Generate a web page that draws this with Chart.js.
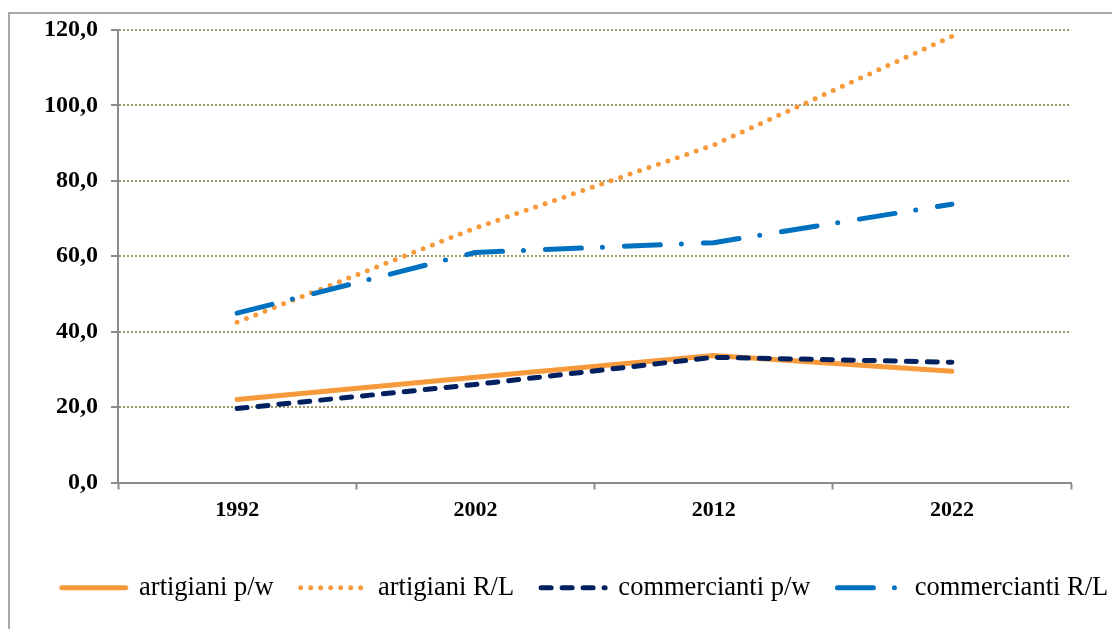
<!DOCTYPE html>
<html>
<head>
<meta charset="utf-8">
<script src="https://cdn.jsdelivr.net/npm/chart.js@4"></script>
<style>
  html, body { margin: 0; padding: 0; background: #fff; overflow: hidden; }
  #frame { position: absolute; left: 8px; top: 12px; width: 1300px; height: 800px;
           border: 2px solid #a8a8a8; box-sizing: border-box; }
  #wrap { position: absolute; left: 0; top: 0; width: 1112px; height: 629px; }
</style>
</head>
<body>
<div id="frame"></div>
<div id="wrap"><canvas id="c"></canvas></div>
<script>
// Years on the horizontal axis
const years = ['1992', '2002', '2012', '2022'];

// Series values
const artigianiPW = [22.0, 27.9, 33.7, 29.5];
const artigianiRL = [42.5, 67.5, 89.5, 118.3];
const commerciantiPW = [19.6, 26.0, 33.2, 31.9];
const commerciantiRL = [44.9, 61.0, 63.6, 73.8];

// Vertical axis range
const yMin = 0, yMax = 120, yStep = 20;

const ORANGE = '#f79a3b';
const NAVY = '#002060';
const BLUE = '#0070c0';
const GRID = '#9d9765';
const AXIS = '#8c8c8c';

const serif = '"Liberation Serif", "Times New Roman", serif';

function series(label, data, color, dash, order) {
  return {
    label, data,
    borderColor: color, backgroundColor: color,
    borderWidth: 5, borderDash: dash,
    borderCapStyle: 'round', borderJoinStyle: 'round',
    pointRadius: 0, tension: 0, fill: false, order
  };
}

// Nudges the legend row sideways so it sits under the plot
const legendShift = {
  id: 'legendShift',
  afterLayout(chart) {
    const lg = chart.legend;
    if (lg) { lg.left += 29; lg.right += 29; }
  }
};

const chart = new Chart(document.getElementById('c'), {
  type: 'line',
  plugins: [legendShift],
  data: {
    labels: years,
    datasets: [
      series('artigiani p/w', artigianiPW, ORANGE, [], 3),
      series('artigiani R/L', artigianiRL, ORANGE, [0, 10], 2),
      series('commercianti p/w', commerciantiPW, NAVY, [10, 11], 1),
      series('commercianti R/L', commerciantiRL, BLUE, [36, 21, 0, 22], 0)
    ]
  },
  options: {
    responsive: true,
    maintainAspectRatio: false,
    animation: false,
    layout: { padding: { left: 0, right: 0, top: 30, bottom: 18 } },
    plugins: {
      tooltip: { enabled: false },
      legend: {
        position: 'bottom',
        labels: {
          usePointStyle: true,
          pointStyle: 'line',
          pointStyleWidth: 64,
          padding: 27,
          color: '#000',
          font: { family: serif, size: 26.5 },
          generateLabels: (ch) => ch.data.datasets.map((ds, i) => ({
            text: ds.label,
            fillStyle: ds.borderColor,
            strokeStyle: ds.borderColor,
            fontColor: '#000',
            lineWidth: ds.borderWidth,
            lineDash: ds.borderDash,
            lineDashOffset: 0,
            lineCap: 'round',
            lineJoin: 'round',
            pointStyle: 'line',
            hidden: false,
            datasetIndex: i
          }))
        }
      }
    },
    scales: {
      x: {
        offset: true,
        grid: {
          offset: true,
          drawOnChartArea: false,
          drawTicks: true,
          tickLength: 7,
          tickColor: AXIS,
          tickWidth: 2
        },
        border: { display: true, color: AXIS, width: 2 },
        ticks: {
          padding: 8,
          color: '#000',
          font: { family: serif, size: 22, weight: 'bold' }
        },
        afterFit: (s) => { s.height = 65; }
      },
      y: {
        min: yMin, max: yMax,
        grid: {
          color: GRID,
          lineWidth: 2,
          drawTicks: true,
          tickLength: 7,
          tickColor: AXIS,
          tickWidth: 2,
          tickBorderDash: []
        },
        border: { display: true, color: AXIS, width: 2, dash: [2, 2] },
        ticks: {
          stepSize: yStep,
          padding: 13,
          color: '#000',
          font: { family: serif, size: 24, weight: 'bold' },
          callback: (v) => v.toFixed(1).replace('.', ',')
        },
        afterFit: (s) => { s.width = 118; }
      },
      // empty right-hand margin beside the plot
      yMargin: {
        type: 'linear',
        position: 'right',
        display: true,
        grid: { display: false, drawTicks: false },
        border: { display: false },
        ticks: { display: false },
        afterFit: (s) => { s.width = 41; }
      }
    }
  }
});
</script>
</body>
</html>
